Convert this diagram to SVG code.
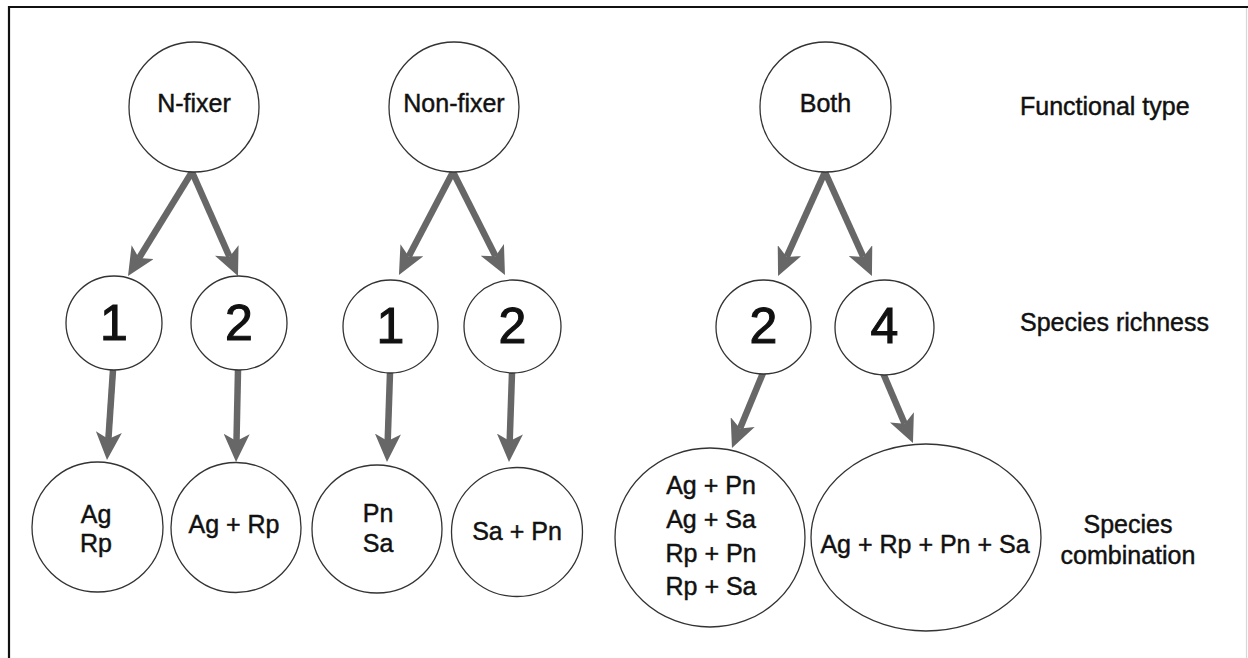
<svg xmlns="http://www.w3.org/2000/svg" width="1248" height="658" viewBox="0 0 1248 658">
  <style>
    .node { fill: #ffffff; stroke: #333333; stroke-width: 1.3; }
    .lbl { font-family: "Liberation Sans", Arial, sans-serif; font-size: 25px; fill: #111111; stroke: #111111; stroke-width: 0.45; text-anchor: middle; }
    .num { font-family: "Liberation Sans", Arial, sans-serif; font-size: 50px; fill: #111111; stroke: #111111; stroke-width: 1.1; text-anchor: middle; }
    .side { font-family: "Liberation Sans", Arial, sans-serif; font-size: 25px; fill: #111111; stroke: #111111; stroke-width: 0.45; }
    .side-c { font-family: "Liberation Sans", Arial, sans-serif; font-size: 25px; fill: #111111; stroke: #111111; stroke-width: 0.45; text-anchor: middle; }
    .arrow { stroke: #676767; stroke-width: 6.5; fill: none; marker-end: url(#head); }
  </style>
  <defs>
    <marker id="head" markerUnits="userSpaceOnUse" viewBox="0 0 28 26" markerWidth="28" markerHeight="26" refX="7" refY="13" orient="auto">
      <path d="M0,0 L28,13 L0,26 L7,13 Z" fill="#676767"/>
    </marker>
  </defs>

  <rect x="0" y="0" width="1248" height="658" fill="#ffffff"/>
  <g id="frame">
    <path d="M9,660 L9,7 L1248,7" fill="none" stroke="#111111" stroke-width="2.2"/>
    <line x1="1246.5" y1="8" x2="1246.5" y2="658" stroke="#d8d8d8" stroke-width="1.2"/>
  </g>

  <g id="connectors">
    <line class="arrow" x1="192" y1="172" x2="139.0" y2="258.1"/>
    <line class="arrow" x1="192" y1="172" x2="229.5" y2="256.8"/>
    <line class="arrow" x1="113" y1="370" x2="108.4" y2="439"/>
    <line class="arrow" x1="238" y1="370" x2="236.5" y2="441"/>
    <line class="arrow" x1="453" y1="172" x2="408.7" y2="256.4"/>
    <line class="arrow" x1="453" y1="172" x2="495.5" y2="256.2"/>
    <line class="arrow" x1="390" y1="373" x2="387.7" y2="441"/>
    <line class="arrow" x1="512" y1="373" x2="509.7" y2="441"/>
    <line class="arrow" x1="825" y1="172" x2="786.7" y2="256.9"/>
    <line class="arrow" x1="825" y1="172" x2="863.3" y2="256.9"/>
    <line class="arrow" x1="763" y1="373" x2="740.0" y2="428.6"/>
    <line class="arrow" x1="883" y1="373" x2="904.7" y2="423.7"/>
  </g>

  <g id="n-fixer">
    <ellipse class="node" cx="194" cy="107" rx="65" ry="65"/>
    <text class="lbl" x="194" y="112">N-fixer</text>
  </g>
  <g id="non-fixer">
    <ellipse class="node" cx="454" cy="107" rx="65" ry="65"/>
    <text class="lbl" x="454" y="112">Non-fixer</text>
  </g>
  <g id="both">
    <ellipse class="node" cx="825.5" cy="107" rx="65.5" ry="65"/>
    <text class="lbl" x="825.5" y="112">Both</text>
  </g>

  <g id="nfix-1">
    <ellipse class="node" cx="114" cy="323" rx="48" ry="47"/>
    <text class="num" x="114" y="340">1</text>
  </g>
  <g id="nfix-2">
    <ellipse class="node" cx="239" cy="323" rx="48" ry="47"/>
    <text class="num" x="239" y="340">2</text>
  </g>
  <g id="nonfix-1">
    <ellipse class="node" cx="390.5" cy="326.5" rx="47.5" ry="46.5"/>
    <text class="num" x="390.5" y="343">1</text>
  </g>
  <g id="nonfix-2">
    <ellipse class="node" cx="512.5" cy="326.5" rx="48.5" ry="46.5"/>
    <text class="num" x="512.5" y="343">2</text>
  </g>
  <g id="both-2">
    <ellipse class="node" cx="763.5" cy="327" rx="47.5" ry="47"/>
    <text class="num" x="763.5" y="343">2</text>
  </g>
  <g id="both-4">
    <ellipse class="node" cx="884.5" cy="327.5" rx="49.5" ry="47.5"/>
    <text class="num" x="884.5" y="343">4</text>
  </g>

  <g id="combo-ag-rp">
    <ellipse class="node" cx="97.5" cy="527" rx="65.5" ry="65"/>
    <text class="lbl" x="96" y="523">Ag</text>
    <text class="lbl" x="96" y="552">Rp</text>
  </g>
  <g id="combo-ag-plus-rp">
    <ellipse class="node" cx="236" cy="527.5" rx="65" ry="65"/>
    <text class="lbl" x="234" y="533">Ag + Rp</text>
  </g>
  <g id="combo-pn-sa">
    <ellipse class="node" cx="377" cy="529" rx="65" ry="64"/>
    <text class="lbl" x="378" y="522">Pn</text>
    <text class="lbl" x="378" y="552">Sa</text>
  </g>
  <g id="combo-sa-plus-pn">
    <ellipse class="node" cx="517" cy="532" rx="65.5" ry="64.5"/>
    <text class="lbl" x="517" y="540">Sa + Pn</text>
  </g>
  <g id="combo-pairs">
    <ellipse class="node" cx="710" cy="537.5" rx="95" ry="89.5"/>
    <text class="lbl" x="711" y="494">Ag + Pn</text>
    <text class="lbl" x="711" y="528">Ag + Sa</text>
    <text class="lbl" x="711" y="562">Rp + Pn</text>
    <text class="lbl" x="711" y="595">Rp + Sa</text>
  </g>
  <g id="combo-all">
    <ellipse class="node" cx="926" cy="537.5" rx="115" ry="93.5"/>
    <text class="lbl" x="925" y="553">Ag + Rp + Pn + Sa</text>
  </g>

  <g id="labels">
    <text class="side" x="1020" y="115">Functional type</text>
    <text class="side" x="1020" y="331">Species richness</text>
    <text class="side-c" x="1128" y="533">Species</text>
    <text class="side-c" x="1128" y="564">combination</text>
  </g>
</svg>
